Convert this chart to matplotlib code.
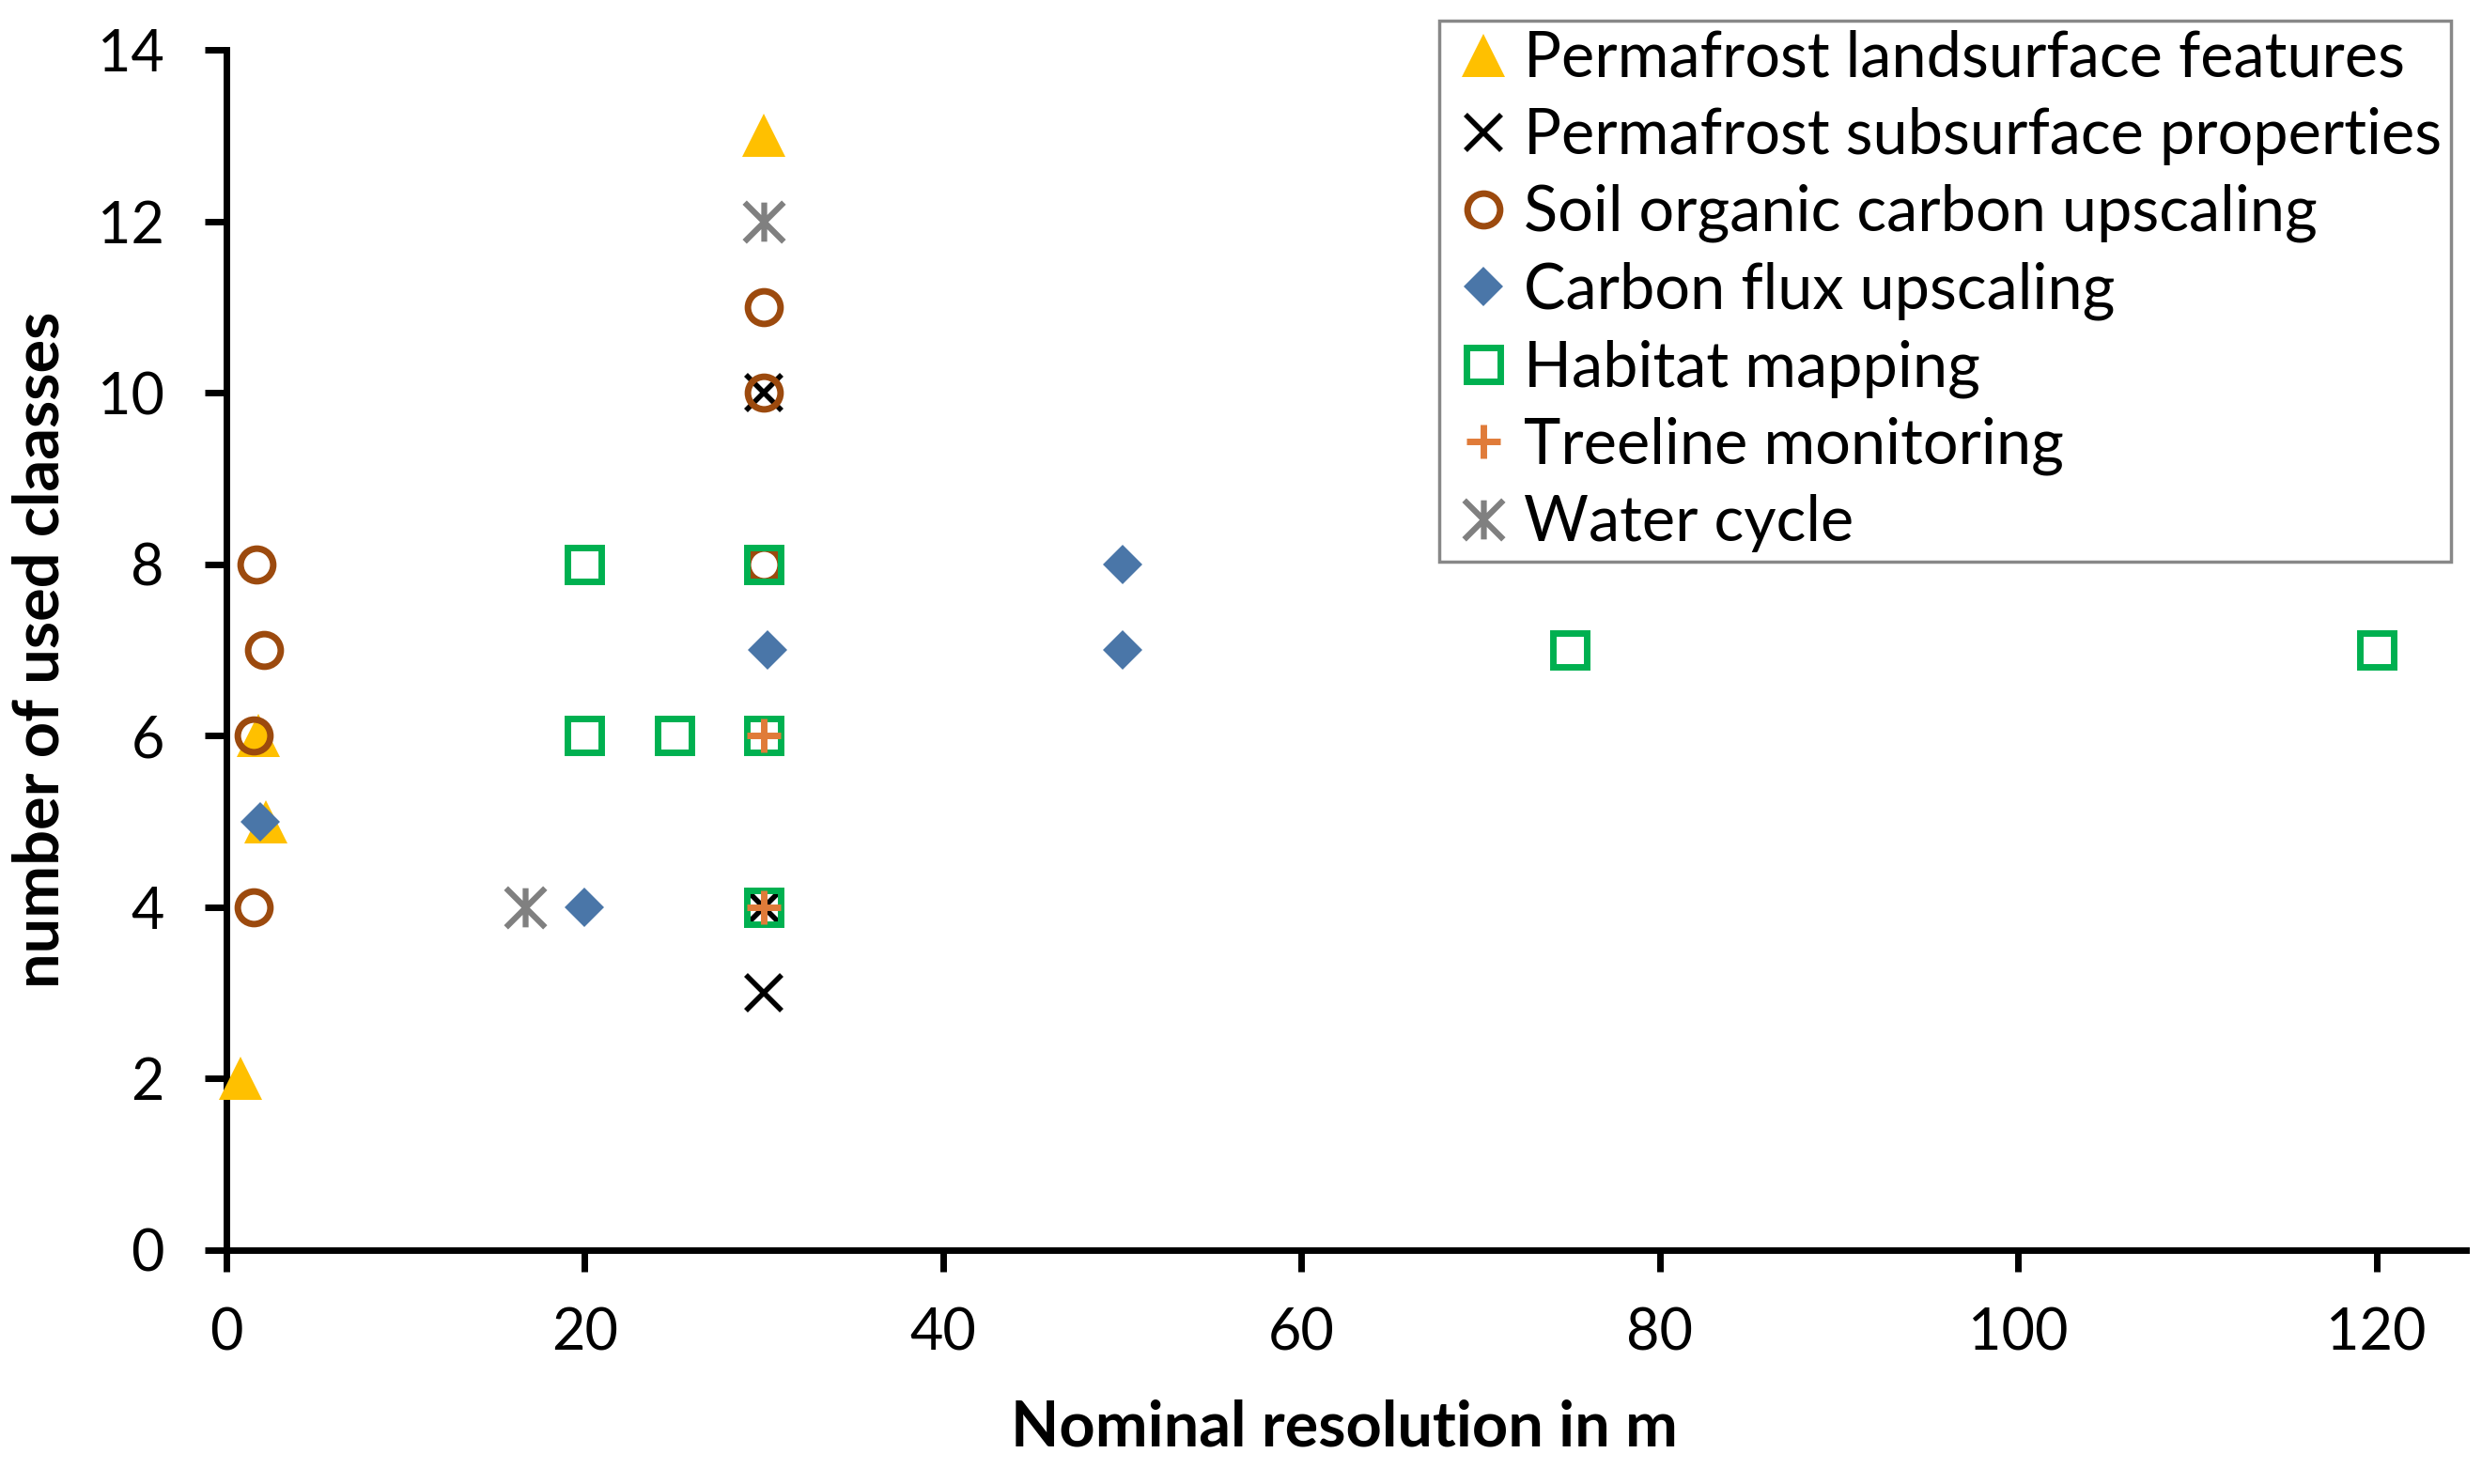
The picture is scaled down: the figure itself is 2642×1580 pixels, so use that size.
import numpy as np
import matplotlib.pyplot as plt
from matplotlib.path import Path

# values
landsurface_x = [0.8, 1.8, 2.2, 30]
landsurface_y = [2, 6, 5, 13]

subsurface_x = [30, 30, 30]
subsurface_y = [10, 4, 3]

soil_carbon_x = [1.5, 1.5, 2.1, 1.7, 30, 30, 30]
soil_carbon_y = [4, 6, 7, 8, 11, 10, 8]

carbon_flux_x = [1.9, 20, 30.2, 50, 50]
carbon_flux_y = [5, 4, 7, 8, 7]

habitat_x = [20, 20, 25, 30, 30, 30, 75, 120]
habitat_y = [8, 6, 6, 8, 6, 4, 7, 7]

treeline_x = [30, 30]
treeline_y = [6, 4]

water_x = [16.7, 30]
water_y = [4, 12]

x_ticks = [0, 20, 40, 60, 80, 100, 120]
y_ticks = [0, 2, 4, 6, 8, 10, 12, 14]

plt.rcParams['font.family'] = ['Lato', 'DejaVu Sans']

# Excel-like "star" marker: an x with a vertical bar
star = Path([(-1, -1), (1, 1), (-1, 1), (1, -1), (0, -1), (0, 1)],
            [Path.MOVETO, Path.LINETO, Path.MOVETO, Path.LINETO, Path.MOVETO, Path.LINETO])


def main():
    fig = plt.figure(figsize=(26.42, 15.80), dpi=100)
    ax = fig.add_axes([0.0912, 0.1576, 0.9936 - 0.0912, 0.9665 - 0.1576])

    common = dict(linestyle='none', clip_on=False, zorder=5)
    ax.plot(landsurface_x, landsurface_y, marker='^', ms=33, mew=0, color='#FFC000',
            label='Permafrost landsurface features', **common)
    ax.plot(subsurface_x, subsurface_y, marker='x', ms=28, mew=4, color='black',
            label='Permafrost subsurface properties', **common)
    ax.plot(soil_carbon_x, soil_carbon_y, marker='o', ms=25, mew=5, mfc='none', mec='#9C4A0E',
            label='Soil organic carbon upscaling', **common)
    ax.plot(carbon_flux_x, carbon_flux_y, marker='D', ms=21, mew=0, color='#4A76A8',
            label='Carbon flux upscaling', **common)
    ax.plot(habitat_x, habitat_y, marker='s', ms=26, mew=5, mfc='none', mec='#00B050',
            label='Habitat mapping', **common)
    ax.plot(treeline_x, treeline_y, marker='+', ms=26, mew=5, color='#E07B39',
            label='Treeline monitoring', **common)
    ax.plot(water_x, water_y, marker=star, ms=30, mew=4.5, mfc='none', mec='#808080',
            label='Water cycle', **common)

    ax.set_xlim(0, 125)
    ax.set_ylim(0, 14)
    ax.set_xticks(x_ticks)
    ax.set_yticks(y_ticks)

    for side in ['top', 'right']:
        ax.spines[side].set_visible(False)
    for side in ['left', 'bottom']:
        ax.spines[side].set_linewidth(5)
    ax.tick_params(axis='both', direction='out', length=16.5, width=5, labelsize=44)
    ax.tick_params(axis='x', pad=27)
    ax.tick_params(axis='y', pad=31)

    ax.set_xlabel('Nominal resolution in m', fontsize=48, fontweight='bold')
    ax.xaxis.set_label_coords(0.499, -0.124)
    ax.set_ylabel('number of used claasses', fontsize=48, fontweight='bold')
    ax.yaxis.set_label_coords(-0.07, 0.5)

    leg = ax.legend(loc='upper left', bbox_to_anchor=(1532 / 2642, 1 - 22 / 1580),
                    bbox_transform=fig.transFigure, fontsize=48, numpoints=1,
                    frameon=True, fancybox=False, framealpha=1, borderaxespad=0,
                    borderpad=0.15, handlelength=1.1, handletextpad=0.1, labelspacing=0.3,
                    markerscale=1.0)
    leg.get_frame().set_edgecolor('#888888')
    leg.get_frame().set_linewidth(2.5)

    fig.savefig('out.png', dpi=100)


if __name__ == '__main__':
    main()
